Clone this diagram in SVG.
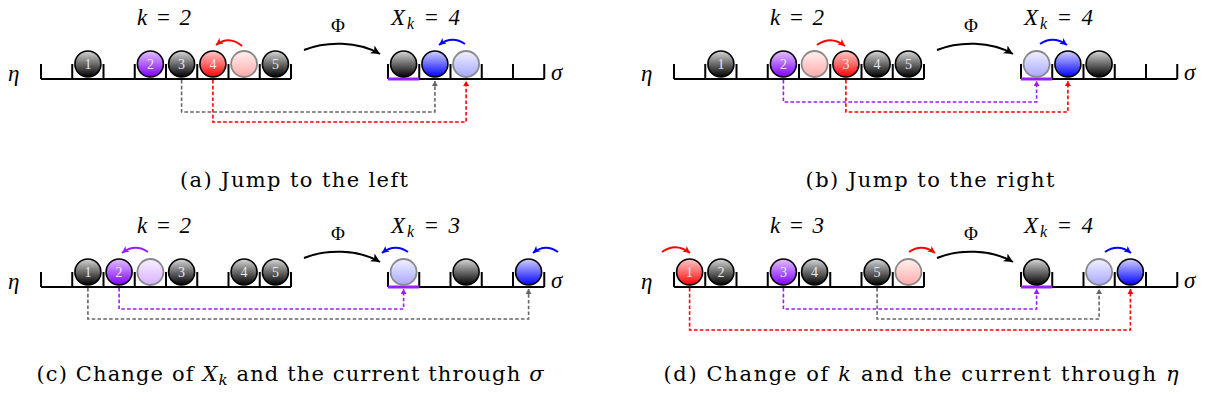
<svg xmlns="http://www.w3.org/2000/svg" width="1208" height="403" viewBox="0 0 1208 403">
<style>
.lat{fill:none;stroke:#000;stroke-width:2}
.pseg{stroke:#9a1cff;stroke-width:3}
.b{stroke:#000;stroke-width:1.6}
.g{stroke:#8a8a8a;stroke-width:1.8}
.lbl{font-family:"Liberation Serif","DejaVu Serif",serif;font-size:14px;fill:#e8e8e8;text-anchor:middle}
.m{font-family:"Liberation Serif","DejaVu Serif",serif;font-style:italic;font-size:23px;fill:#000}
.up{font-family:"Liberation Serif","DejaVu Serif",serif;font-size:19px;fill:#000;text-anchor:middle}
.cap{font-family:"DejaVu Serif","Liberation Serif",serif;font-size:21px;fill:#000;text-anchor:middle}
.arc{fill:none;stroke-width:2}
.dash{fill:none;stroke-width:1.6;stroke-dasharray:3.6 2.2}
</style>
<defs>
<linearGradient id="gDark" x1="0" y1="0" x2="0" y2="1"><stop offset="0" stop-color="#d8d8d8"/><stop offset="0.5" stop-color="#6a6a6a"/><stop offset="1" stop-color="#000"/></linearGradient>
<linearGradient id="gRed" x1="0" y1="0" x2="0" y2="1"><stop offset="0" stop-color="#ffc8c8"/><stop offset="0.5" stop-color="#ff6a6a"/><stop offset="1" stop-color="#ff0000"/></linearGradient>
<linearGradient id="gRedG" x1="0" y1="0" x2="0" y2="1"><stop offset="0" stop-color="#fff0f0"/><stop offset="1" stop-color="#ffaaaa"/></linearGradient>
<linearGradient id="gBlue" x1="0" y1="0" x2="0" y2="1"><stop offset="0" stop-color="#d0d0ff"/><stop offset="0.5" stop-color="#6a6aff"/><stop offset="1" stop-color="#0000ff"/></linearGradient>
<linearGradient id="gBlueG" x1="0" y1="0" x2="0" y2="1"><stop offset="0" stop-color="#f0f0ff"/><stop offset="1" stop-color="#a8a8ff"/></linearGradient>
<linearGradient id="gPur" x1="0" y1="0" x2="0" y2="1"><stop offset="0" stop-color="#e6c0ff"/><stop offset="0.5" stop-color="#b060ff"/><stop offset="1" stop-color="#8000ff"/></linearGradient>
<linearGradient id="gPurG" x1="0" y1="0" x2="0" y2="1"><stop offset="0" stop-color="#f8f0ff"/><stop offset="1" stop-color="#d8b0ff"/></linearGradient>
<marker id="aRed" markerUnits="userSpaceOnUse" markerWidth="9" markerHeight="8" refX="7" refY="4" orient="auto"><path d="M0,0.5 L7,4 L0,7.5 L1.8,4 z" fill="#ff0000" stroke="none"/></marker>
<marker id="aBlue" markerUnits="userSpaceOnUse" markerWidth="9" markerHeight="8" refX="7" refY="4" orient="auto"><path d="M0,0.5 L7,4 L0,7.5 L1.8,4 z" fill="#0000ff" stroke="none"/></marker>
<marker id="aPur" markerUnits="userSpaceOnUse" markerWidth="9" markerHeight="8" refX="7" refY="4" orient="auto"><path d="M0,0.5 L7,4 L0,7.5 L1.8,4 z" fill="#9a1cff" stroke="none"/></marker>
<marker id="aBlk" markerUnits="userSpaceOnUse" markerWidth="11" markerHeight="10" refX="9" refY="5" orient="auto"><path d="M0,0.5 L9,5 L0,9.5 L2.2,5 z" fill="#000" stroke="none"/></marker>
<marker id="dGray" markerUnits="userSpaceOnUse" markerWidth="7" markerHeight="6" refX="5" refY="3" orient="auto"><path d="M0,0 L5,3 L0,6 z" fill="#666" stroke="none"/></marker>
<marker id="dRed" markerUnits="userSpaceOnUse" markerWidth="7" markerHeight="6" refX="5" refY="3" orient="auto"><path d="M0,0 L5,3 L0,6 z" fill="#ff0000" stroke="none"/></marker>
<marker id="dPur" markerUnits="userSpaceOnUse" markerWidth="7" markerHeight="6" refX="5" refY="3" orient="auto"><path d="M0,0 L5,3 L0,6 z" fill="#9a1cff" stroke="none"/></marker>
<path id="etaLat" class="lat" d="M41,79 H291 M41,64 V79 M72.25,64 V79 M103.5,64 V79 M134.75,64 V79 M166,64 V79 M197.25,64 V79 M228.5,64 V79 M259.75,64 V79 M291,64 V79"/>
<path id="sigLat" class="lat" d="M388,79 H544.25 M388,64 V79 M419.25,64 V79 M450.5,64 V79 M481.75,64 V79 M513,64 V79 M544.25,64 V79"/>
</defs>
<rect width="1208" height="403" fill="#fff"/>

<!-- Panel a -->
<g id="panel-a">
  <g id="a-eta">
    <text class="m" x="8" y="81">η</text>
    <use href="#etaLat"/>
    <text class="m" x="137" y="25" textLength="54" lengthAdjust="spacing">k = 2</text>
  </g>
  <g id="a-balls-eta">
    <circle class="b" cx="87.9" cy="64" r="13" fill="url(#gDark)"/><text class="lbl" x="87.9" y="69">1</text>
    <circle class="b" cx="150.4" cy="64" r="13" fill="url(#gPur)"/><text class="lbl" x="150.4" y="69">2</text>
    <circle class="b" cx="181.6" cy="64" r="13" fill="url(#gDark)"/><text class="lbl" x="181.6" y="69">3</text>
    <circle class="b" cx="212.9" cy="64" r="13" fill="url(#gRed)"/><text class="lbl" x="212.9" y="69">4</text>
    <circle class="g" cx="244.1" cy="64" r="13" fill="url(#gRedG)"/>
    <circle class="b" cx="275.4" cy="64" r="13" fill="url(#gDark)"/><text class="lbl" x="275.4" y="69">5</text>
  </g>
  <g id="a-sigma">
    <use href="#sigLat"/>
    <line class="pseg" x1="388" y1="79" x2="419.25" y2="79"/>
    <text class="m" x="551" y="80">σ</text>
    <text class="m" x="391" y="25" textLength="69" lengthAdjust="spacing">X<tspan font-size="16" dy="4">k</tspan><tspan dy="-4"> = 4</tspan></text>
    <circle class="b" cx="403.6" cy="64" r="13" fill="url(#gDark)"/>
    <circle class="b" cx="434.9" cy="64" r="13" fill="url(#gBlue)"/>
    <circle class="g" cx="466.1" cy="64" r="13" fill="url(#gBlueG)"/>
  </g>
  <text class="up" x="338" y="32">Φ</text>
</g>

<!-- Panel b -->
<g id="panel-b" transform="translate(633,0)">
  <g id="b-eta">
    <text class="m" x="8" y="81">η</text>
    <use href="#etaLat"/>
    <text class="m" x="137" y="25" textLength="54" lengthAdjust="spacing">k = 2</text>
  </g>
  <g id="b-balls-eta">
    <circle class="b" cx="87.9" cy="64" r="13" fill="url(#gDark)"/><text class="lbl" x="87.9" y="69">1</text>
    <circle class="b" cx="150.4" cy="64" r="13" fill="url(#gPur)"/><text class="lbl" x="150.4" y="69">2</text>
    <circle class="g" cx="181.6" cy="64" r="13" fill="url(#gRedG)"/>
    <circle class="b" cx="212.9" cy="64" r="13" fill="url(#gRed)"/><text class="lbl" x="212.9" y="69">3</text>
    <circle class="b" cx="244.1" cy="64" r="13" fill="url(#gDark)"/><text class="lbl" x="244.1" y="69">4</text>
    <circle class="b" cx="275.4" cy="64" r="13" fill="url(#gDark)"/><text class="lbl" x="275.4" y="69">5</text>
  </g>
  <g id="b-sigma">
    <use href="#sigLat"/>
    <line class="pseg" x1="388" y1="79" x2="419.25" y2="79"/>
    <text class="m" x="551" y="80">σ</text>
    <text class="m" x="391" y="25" textLength="69" lengthAdjust="spacing">X<tspan font-size="16" dy="4">k</tspan><tspan dy="-4"> = 4</tspan></text>
    <circle class="g" cx="403.6" cy="64" r="13" fill="url(#gBlueG)"/>
    <circle class="b" cx="434.9" cy="64" r="13" fill="url(#gBlue)"/>
    <circle class="b" cx="466.1" cy="64" r="13" fill="url(#gDark)"/>
  </g>
  <text class="up" x="338" y="32">Φ</text>
</g>

<!-- Panel c -->
<g id="panel-c" transform="translate(0,208)">
  <g id="c-eta">
    <text class="m" x="8" y="81">η</text>
    <use href="#etaLat"/>
    <text class="m" x="137" y="25" textLength="54" lengthAdjust="spacing">k = 2</text>
  </g>
  <g id="c-balls-eta">
    <circle class="b" cx="87.9" cy="64" r="13" fill="url(#gDark)"/><text class="lbl" x="87.9" y="69">1</text>
    <circle class="b" cx="119.1" cy="64" r="13" fill="url(#gPur)"/><text class="lbl" x="119.1" y="69">2</text>
    <circle class="g" cx="150.4" cy="64" r="13" fill="url(#gPurG)"/>
    <circle class="b" cx="181.6" cy="64" r="13" fill="url(#gDark)"/><text class="lbl" x="181.6" y="69">3</text>
    <circle class="b" cx="244.1" cy="64" r="13" fill="url(#gDark)"/><text class="lbl" x="244.1" y="69">4</text>
    <circle class="b" cx="275.4" cy="64" r="13" fill="url(#gDark)"/><text class="lbl" x="275.4" y="69">5</text>
  </g>
  <g id="c-sigma">
    <use href="#sigLat"/>
    <line class="pseg" x1="388" y1="79" x2="419.25" y2="79"/>
    <text class="m" x="551" y="80">σ</text>
    <text class="m" x="391" y="25" textLength="69" lengthAdjust="spacing">X<tspan font-size="16" dy="4">k</tspan><tspan dy="-4"> = 3</tspan></text>
    <circle class="g" cx="403.6" cy="64" r="13" fill="url(#gBlueG)"/>
    <circle class="b" cx="466.1" cy="64" r="13" fill="url(#gDark)"/>
    <circle class="b" cx="528.6" cy="64" r="13" fill="url(#gBlue)"/>
  </g>
  <text class="up" x="338" y="32">Φ</text>
</g>

<!-- Panel d -->
<g id="panel-d" transform="translate(633,208)">
  <g id="d-eta">
    <text class="m" x="8" y="81">η</text>
    <use href="#etaLat"/>
    <text class="m" x="137" y="25" textLength="54" lengthAdjust="spacing">k = 3</text>
  </g>
  <g id="d-balls-eta">
    <circle class="b" cx="56.6" cy="64" r="13" fill="url(#gRed)"/><text class="lbl" x="56.6" y="69">1</text>
    <circle class="b" cx="87.9" cy="64" r="13" fill="url(#gDark)"/><text class="lbl" x="87.9" y="69">2</text>
    <circle class="b" cx="150.4" cy="64" r="13" fill="url(#gPur)"/><text class="lbl" x="150.4" y="69">3</text>
    <circle class="b" cx="181.6" cy="64" r="13" fill="url(#gDark)"/><text class="lbl" x="181.6" y="69">4</text>
    <circle class="b" cx="244.1" cy="64" r="13" fill="url(#gDark)"/><text class="lbl" x="244.1" y="69">5</text>
    <circle class="g" cx="275.4" cy="64" r="13" fill="url(#gRedG)"/>
  </g>
  <g id="d-sigma">
    <use href="#sigLat"/>
    <line class="pseg" x1="388" y1="79" x2="419.25" y2="79"/>
    <text class="m" x="551" y="80">σ</text>
    <text class="m" x="391" y="25" textLength="69" lengthAdjust="spacing">X<tspan font-size="16" dy="4">k</tspan><tspan dy="-4"> = 4</tspan></text>
    <circle class="b" cx="403.6" cy="64" r="13" fill="url(#gDark)"/>
    <circle class="g" cx="466.1" cy="64" r="13" fill="url(#gBlueG)"/>
    <circle class="b" cx="497.4" cy="64" r="13" fill="url(#gBlue)"/>
  </g>
  <text class="up" x="338" y="32">Φ</text>
</g>

<g id="connectors">
  <g transform="translate(0,0)">
    <path class="arc" stroke="#000" d="M304,50 C326,41 358,41 380,54" marker-end="url(#aBlk)"/>
    <path class="arc" stroke="#ff0000" d="M242,46 Q229,35 216,45" marker-end="url(#aRed)"/>
    <path class="arc" stroke="#0000ff" d="M465,44 Q452,35 439,45" marker-end="url(#aBlue)"/>
    <path class="dash" stroke="#666" d="M181.6,80 V112 H434.9 V81" marker-end="url(#dGray)"/>
    <path class="dash" stroke="#ff0000" d="M212.9,80 V122 H466.1 V81" marker-end="url(#dRed)"/>
  </g>
  <g transform="translate(633,0)">
    <path class="arc" stroke="#000" d="M304,50 C326,41 358,41 380,54" marker-end="url(#aBlk)"/>
    <path class="arc" stroke="#ff0000" d="M184,45 Q198,35 212,46" marker-end="url(#aRed)"/>
    <path class="arc" stroke="#0000ff" d="M407,44 Q420,35 434,45" marker-end="url(#aBlue)"/>
    <path class="dash" stroke="#9a1cff" d="M150.4,80 V102 H403.6 V81" marker-end="url(#dPur)"/>
    <path class="dash" stroke="#ff0000" d="M212.9,80 V112 H434.9 V81" marker-end="url(#dRed)"/>
  </g>
  <g transform="translate(0,208)">
    <path class="arc" stroke="#000" d="M304,50 C326,41 358,41 380,54" marker-end="url(#aBlk)"/>
    <path class="arc" stroke="#9a1cff" d="M148,44 Q135,35 122,45" marker-end="url(#aPur)"/>
    <path class="arc" stroke="#0000ff" d="M408,44 Q395,35 382,45" marker-end="url(#aBlue)"/>
    <path class="arc" stroke="#0000ff" d="M558,44 Q545,35 533,45" marker-end="url(#aBlue)"/>
    <path class="dash" stroke="#666" d="M87.9,80 V111 H528.6 V81" marker-end="url(#dGray)"/>
    <path class="dash" stroke="#9a1cff" d="M119.1,80 V101 H403.6 V81" marker-end="url(#dPur)"/>
  </g>
  <g transform="translate(633,208)">
    <path class="arc" stroke="#000" d="M304,50 C326,41 358,41 380,54" marker-end="url(#aBlk)"/>
    <path class="arc" stroke="#ff0000" d="M29,44 Q43,34 57,45" marker-end="url(#aRed)"/>
    <path class="arc" stroke="#ff0000" d="M276,44 Q289,35 302,45" marker-end="url(#aRed)"/>
    <path class="arc" stroke="#0000ff" d="M472,44 Q485,35 498,45" marker-end="url(#aBlue)"/>
    <path class="dash" stroke="#ff0000" d="M56.6,80 V122 H497.4 V81" marker-end="url(#dRed)"/>
    <path class="dash" stroke="#9a1cff" d="M150.4,80 V101 H403.6 V81" marker-end="url(#dPur)"/>
    <path class="dash" stroke="#666" d="M244.1,80 V111 H466.1 V81" marker-end="url(#dGray)"/>
  </g>
</g>

<g id="captions">
  <text class="cap" x="294" y="187" textLength="228" lengthAdjust="spacing">(a) Jump to the left</text>
  <text class="cap" x="930" y="187" textLength="249" lengthAdjust="spacing">(b) Jump to the right</text>
  <text class="cap" x="290" y="381" textLength="507" lengthAdjust="spacing">(c) Change of <tspan font-style="italic">X</tspan><tspan font-style="italic" font-size="15" dy="4">k</tspan><tspan dy="-4"> and the current through </tspan><tspan font-style="italic">σ</tspan></text>
  <text class="cap" x="921" y="381" textLength="515" lengthAdjust="spacing">(d) Change of <tspan font-style="italic">k</tspan> and the current through <tspan font-style="italic">η</tspan></text>
</g>
</svg>
